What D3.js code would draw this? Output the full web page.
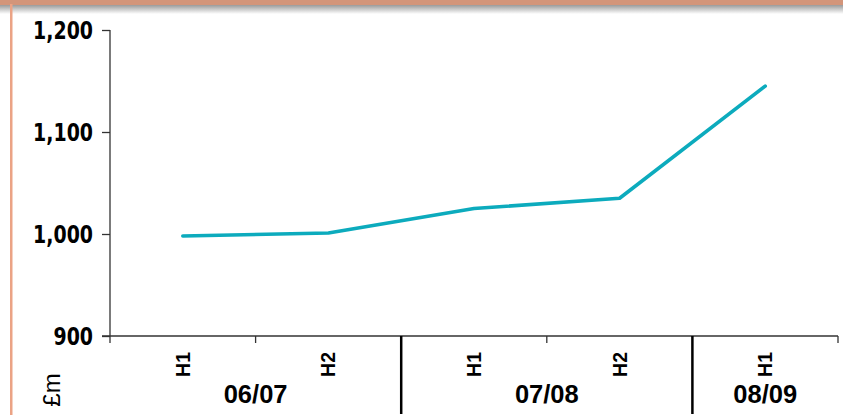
<!DOCTYPE html>
<html><head><meta charset="utf-8">
<script src="https://cdn.jsdelivr.net/npm/d3@7"></script>
<style>body{margin:0;background:#fff;}svg{display:block;}</style>
</head><body>
<script>
const periods = ["06/07 H1","06/07 H2","07/08 H1","07/08 H2","08/09 H1"];
const halfLabels = ["H1","H2","H1","H2","H1"];
const years = ["06/07","07/08","08/09"];
const yearSpans = [[0,1],[2,3],[4,4]];
const values = [998, 1001, 1025, 1035, 1145];
const yTicks = [900, 1000, 1100, 1200];

const W = 843, H = 415;
const svg = d3.select("body").append("svg").attr("width", W).attr("height", H);

// frame
const defs = svg.append("defs");
const g1 = defs.append("linearGradient").attr("id","sh").attr("x1",0).attr("y1",0).attr("x2",0).attr("y2",1);
g1.append("stop").attr("offset","0%").attr("stop-color","#8f8f8f");
g1.append("stop").attr("offset","100%").attr("stop-color","#ffffff");
svg.append("rect").attr("x",0).attr("y",4).attr("width",W).attr("height",10).attr("fill","url(#sh)");
svg.append("rect").attr("x",0).attr("y",0).attr("width",W).attr("height",5).attr("fill","#d3957a");
svg.append("rect").attr("x",10).attr("y",4).attr("width",2.5).attr("height",H).attr("fill","#eba385");

const x = d3.scaleBand().domain(periods).range([110, 838]).padding(0);
const y = d3.scaleLinear().domain([900, 1200]).range([336, 30]);

// y axis
const sx = 0.86;
const ya = svg.append("g").attr("transform","translate(110,0)")
  .call(d3.axisLeft(y).tickValues(yTicks).tickSize(8).tickPadding(8).tickFormat(d3.format(",")));
ya.select(".domain").remove();
ya.selectAll(".tick line").attr("stroke","#333").attr("stroke-width",1.3);
ya.selectAll(".tick text").attr("font-family","'DejaVu Sans Condensed','DejaVu Sans',sans-serif")
  .attr("font-stretch","condensed")
  .attr("font-weight","bold").attr("font-size",24.5).attr("fill","#000").attr("dy","0.36em")
  .attr("x", -17 / sx).attr("transform", `scale(${sx},1)`);
svg.append("line").attr("x1",110).attr("x2",110).attr("y1",y(1200)).attr("y2",343).attr("stroke","#333").attr("stroke-width",1.3);

// x axis line
svg.append("line").attr("x1",102).attr("x2",838).attr("y1",y(900)).attr("y2",y(900)).attr("stroke","#333").attr("stroke-width",1.3);
// minor ticks at half boundaries
[1,3,5].forEach(i => {
  const xx = i < periods.length ? x(periods[i]) : x(periods[periods.length-1]) + x.bandwidth();
  svg.append("line").attr("x1",xx).attr("x2",xx).attr("y1",336).attr("y2",343).attr("stroke","#333").attr("stroke-width",1.3);
});
// year dividers
[2,4].forEach(i => {
  const xx = x(periods[i]);
  svg.append("line").attr("x1",xx).attr("x2",xx).attr("y1",336).attr("y2",414).attr("stroke","#000").attr("stroke-width",2.5);
});

// H labels
periods.forEach((p,i) => {
  const cx = x(p) + x.bandwidth()/2;
  svg.append("text").attr("transform",`translate(${cx+7},352) rotate(-90)`)
    .attr("text-anchor","end").attr("font-family","'Liberation Sans',Arial,sans-serif")
    .attr("font-weight","bold").attr("font-size",19.5).text(halfLabels[i]);
});
// year labels
years.forEach((yr,i) => {
  const [a,b] = yearSpans[i];
  const cx = (x(periods[a]) + x(periods[b]) + x.bandwidth())/2;
  const cxx = a===b ? x(periods[a]) + x.bandwidth()/2 : cx;
  svg.append("text").attr("x",cxx).attr("y",403).attr("text-anchor","middle")
    .attr("font-family","'Liberation Sans',Arial,sans-serif").attr("font-weight","bold")
    .attr("font-size",25.5).text(yr);
});

// unit label
svg.append("text").attr("transform","translate(60,390) rotate(-90)").attr("text-anchor","middle")
  .attr("font-family","'Liberation Sans',Arial,sans-serif").attr("font-size",24).text("£m");

// line
const line = d3.line().x((d,i) => x(periods[i]) + x.bandwidth()/2).y(d => y(d));
svg.append("path").datum(values).attr("d",line).attr("fill","none")
  .attr("stroke","#0cabbd").attr("stroke-width",3.6).attr("stroke-linecap","round").attr("stroke-linejoin","round");
</script>
</body></html>
